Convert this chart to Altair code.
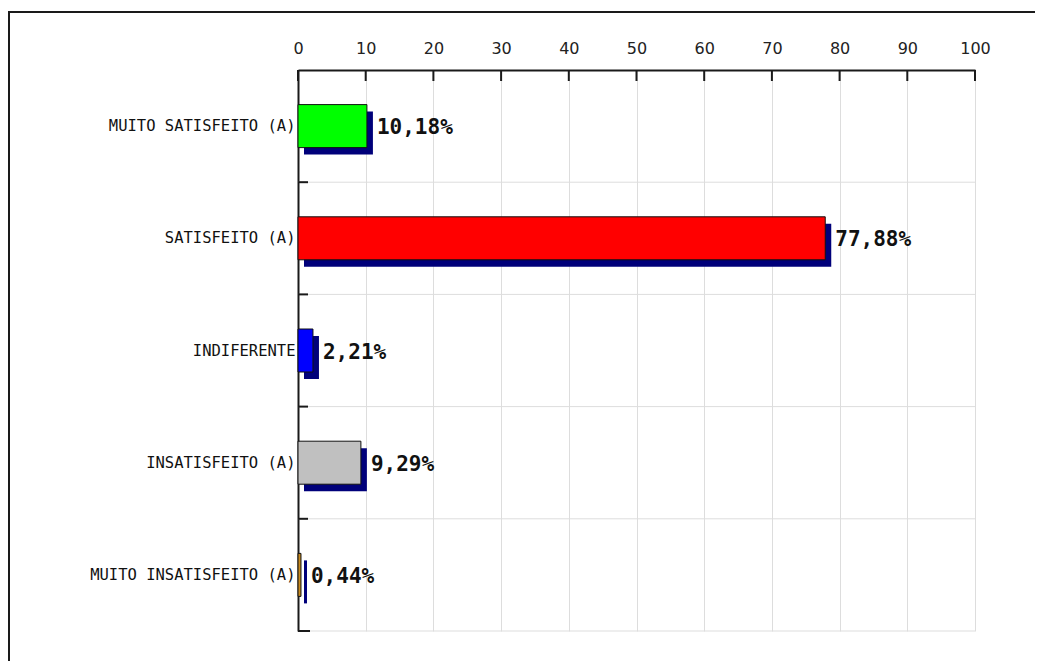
import altair as alt
import pandas as pd

categories = ["MUITO SATISFEITO (A)", "SATISFEITO (A)", "INDIFERENTE", "INSATISFEITO (A)", "MUITO INSATISFEITO (A)"]
values = [10.18, 77.88, 2.21, 9.29, 0.44]
colors = ["#00FF00", "#FF0000", "#0000FF", "#C0C0C0", "#C88A1E"]
x_ticks = [0, 10, 20, 30, 40, 50, 60, 70, 80, 90, 100]

labels = [f"{v:.2f}".replace(".", ",") + "%" for v in values]
df = pd.DataFrame({"cat": categories, "val": values, "color": colors, "label": labels})
ticks_df = pd.DataFrame({"t": x_ticks})
bounds_start = pd.DataFrame({"cat": categories[1:]})
bounds_end = pd.DataFrame({"cat": categories[-1:]})

PLOT_W, PLOT_H = 677, 561
xs = alt.Scale(domain=[0, 100], nice=False, zero=True)
ys = alt.Scale(domain=categories, paddingInner=0, paddingOuter=0)

x_axis = alt.Axis(orient="top", values=x_ticks, grid=True, gridColor="#dddddd", gridWidth=1,
                  ticks=False, labelPadding=14, labelFlush=False, labelFont="DejaVu Sans",
                  labelFontSize=16, labelColor="#222222", domainColor="#1a1a1a", domainWidth=2,
                  title=None)
y_axis = alt.Axis(orient="left", ticks=False, grid=False, labelPadding=3, labelFont="DejaVu Sans Mono",
                  labelFontSize=15.5, labelColor="#111111", domainColor="#1a1a1a", domainWidth=2,
                  title=None, labelLimit=300)

base = alt.Chart(df)

shadow = base.mark_bar(height=43, xOffset=6, yOffset=7, color="#00007A").encode(
    x=alt.X("val:Q", scale=xs, axis=x_axis),
    y=alt.Y("cat:N", scale=ys, sort=categories, axis=y_axis),
)
bars = base.mark_bar(height=43, stroke="#111111", strokeWidth=1).encode(
    x=alt.X("val:Q", scale=xs),
    y=alt.Y("cat:N", scale=ys, sort=categories),
    color=alt.Color("color:N", scale=None),
)
text = base.mark_text(align="left", baseline="middle", dx=10, dy=2, font="DejaVu Sans Mono",
                      fontWeight="bold", fontSize=21, color="#111111").encode(
    x=alt.X("val:Q", scale=xs),
    y=alt.Y("cat:N", scale=ys, sort=categories),
    text="label:N",
)

hgrid = alt.Chart(bounds_start).mark_rule(color="#dddddd", strokeWidth=1).encode(
    x=alt.datum(0, scale=xs), x2=alt.datum(100),
    y=alt.Y("cat:N", scale=ys, sort=categories, bandPosition=0),
)
hgrid_end = alt.Chart(bounds_end).mark_rule(color="#dddddd", strokeWidth=1).encode(
    x=alt.datum(0, scale=xs), x2=alt.datum(100),
    y=alt.Y("cat:N", scale=ys, sort=categories, bandPosition=1),
)
yticks = alt.Chart(bounds_start).mark_rule(color="#1a1a1a", strokeWidth=2).encode(
    x=alt.value(0), x2=alt.value(10),
    y=alt.Y("cat:N", scale=ys, sort=categories, bandPosition=0),
)
yticks_end = alt.Chart(bounds_end).mark_rule(color="#1a1a1a", strokeWidth=2).encode(
    x=alt.value(0), x2=alt.value(12),
    y=alt.Y("cat:N", scale=ys, sort=categories, bandPosition=1),
)
xticks = alt.Chart(ticks_df).mark_rule(color="#1a1a1a", strokeWidth=2).encode(
    x=alt.X("t:Q", scale=xs), y=alt.value(0), y2=alt.value(11),
)

border_top = alt.Chart(ticks_df.head(1)).mark_rule(color="#1a1a1a", strokeWidth=2).encode(
    x=alt.value(-290), x2=alt.value(760), y=alt.value(-58),
)
border_left = alt.Chart(ticks_df.head(1)).mark_rule(color="#1a1a1a", strokeWidth=2).encode(
    x=alt.value(-289), y=alt.value(-58), y2=alt.value(620),
)

chart = alt.layer(
    hgrid, hgrid_end, shadow, bars, text, yticks, yticks_end, xticks, border_top, border_left
).properties(
    width=PLOT_W, height=PLOT_H,
    autosize=alt.AutoSizeParams(type="none"),
    padding={"left": 290, "top": 62, "right": 60, "bottom": 30},
    background="white",
).configure_view(stroke=None)

chart.save("out.html", embed_options={"renderer": "svg", "actions": False})
